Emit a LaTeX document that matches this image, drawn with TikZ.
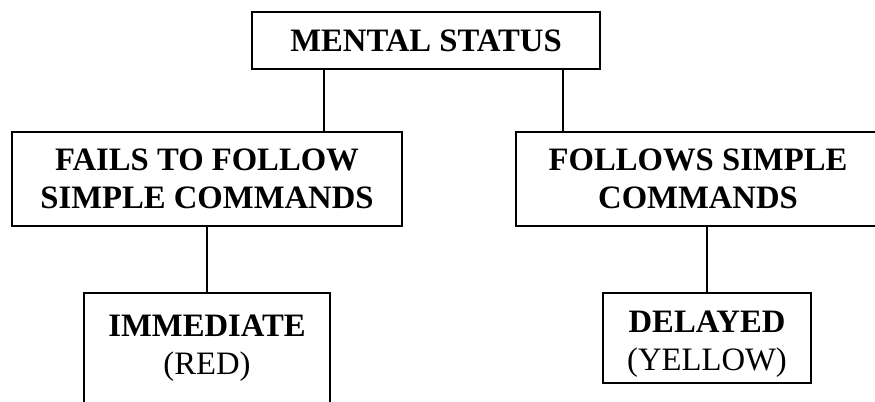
\documentclass[tikz,border=0pt]{standalone}
\usepackage{fontspec}
\setmainfont{Liberation Serif}
\usetikzlibrary{positioning}
\tikzset{box/.style={draw,line width=1pt,inner sep=0pt,align=center,
        font=\fontsize{18.6}{21.6}\selectfont\bfseries}}
\tikzset{link/.style={line width=0.8pt}}

\begin{document}
\begin{tikzpicture}[x=0.02cm,y=-0.02cm]
                \useasboundingbox (0,0) rectangle (875,402);
                \clip (0,0) rectangle (875,402);
                \node[box,minimum width=6.96cm,minimum height=1.14cm] (ms) at (426,40.5) {MENTAL STATUS};
                \node[box,minimum width=7.8cm,minimum height=1.88cm] (fails) at (207,179) {FAILS TO FOLLOW\\SIMPLE COMMANDS};
                \node[box,minimum width=7.28cm,minimum height=1.88cm] (follows) at (698,179) {FOLLOWS SIMPLE\\COMMANDS};
                \node[box,minimum width=4.92cm,minimum height=2.22cm] (imm) at (207,348.5) {IMMEDIATE\\\mdseries(RED)};
                \node[box,minimum width=4.16cm,minimum height=1.8cm] (del) at (707,338) {\rule{0pt}{0.68cm}DELAYED\\\mdseries(YELLOW)};
                \coordinate (l) at (324,0);
                \coordinate (r) at (563,0);
                \draw[link] (ms.south -| l) -- (fails.north -| l);
                \draw[link] (ms.south -| r) -- (follows.north -| r);
                \draw[link] (fails.south -| imm.north) -- (imm.north);
                \draw[link] (follows.south -| del.north) -- (del.north);
\end{tikzpicture}
\end{document}
